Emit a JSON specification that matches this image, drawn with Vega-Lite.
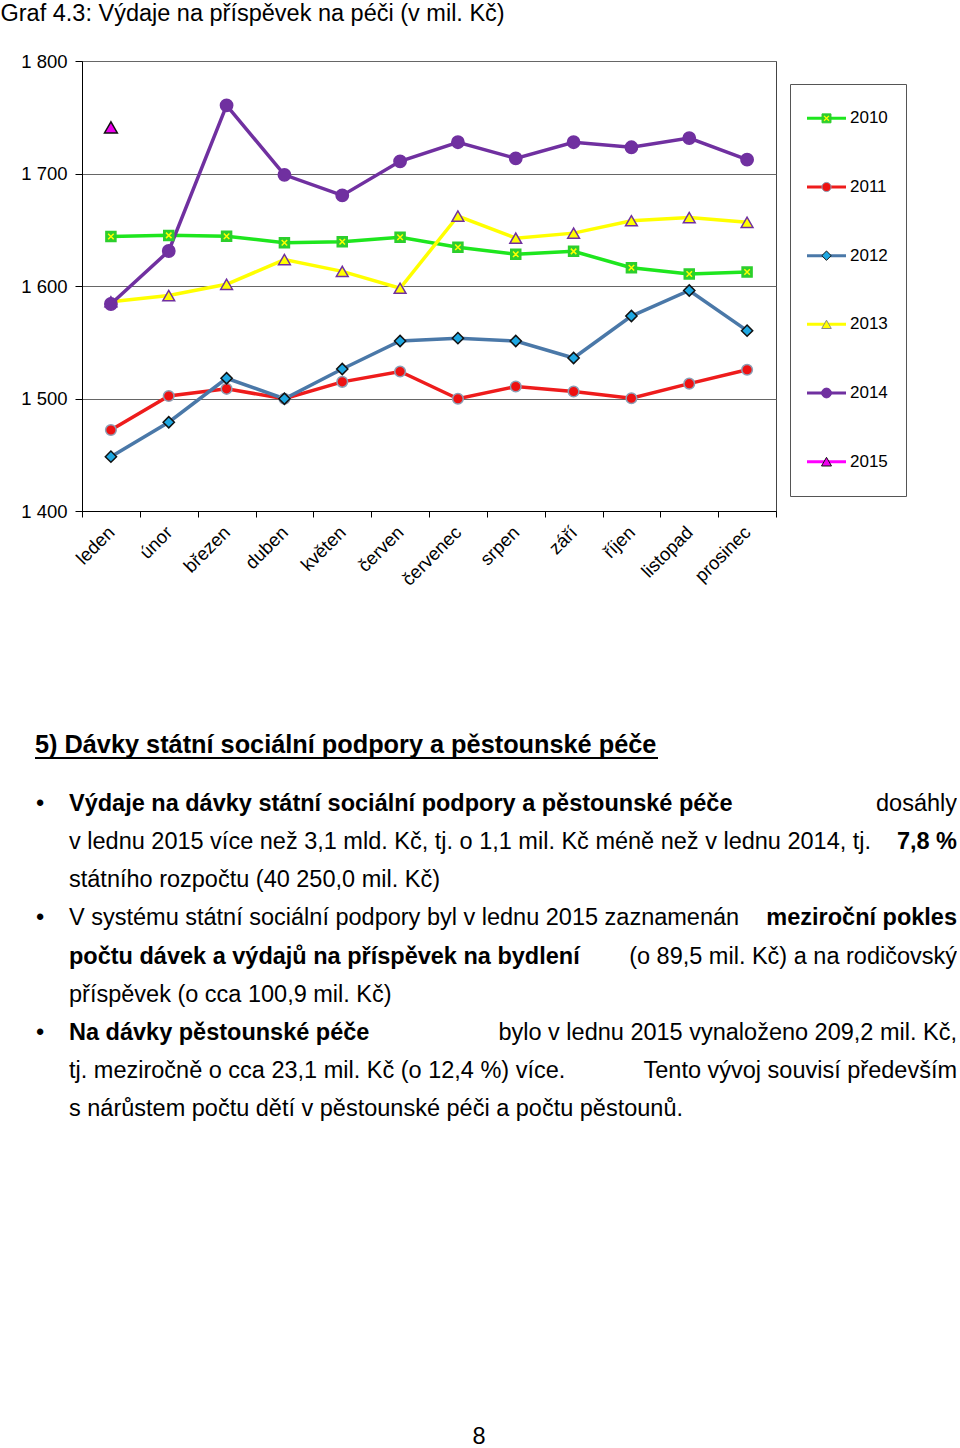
{
  "$schema": "https://vega.github.io/schema/vega-lite/v6.json",
  "padding": {"top": 2, "left": 0, "right": 0, "bottom": 0},
  "background": "#ffffff",
  "config": {
    "font": "Liberation Sans",
    "view": {"stroke": null},
    "text": {"font": "Liberation Sans", "color": "#000000"}
  },
  "title": {
    "text": "Graf 4.3: Výdaje na příspěvek na péči (v mil. Kč)",
    "anchor": "start",
    "frame": "bounds",
    "font": "Liberation Sans",
    "fontSize": 23.5,
    "fontWeight": "normal",
    "color": "#000000",
    "offset": 26
  },
  "datasets": {
    "series": [
      {"year": "2010", "month": "leden", "value": 1644.0},
      {"year": "2010", "month": "únor", "value": 1645.0},
      {"year": "2010", "month": "březen", "value": 1644.2},
      {"year": "2010", "month": "duben", "value": 1638.5},
      {"year": "2010", "month": "květen", "value": 1639.4},
      {"year": "2010", "month": "červen", "value": 1643.3},
      {"year": "2010", "month": "červenec", "value": 1634.4},
      {"year": "2010", "month": "srpen", "value": 1628.2},
      {"year": "2010", "month": "září", "value": 1630.8},
      {"year": "2010", "month": "říjen", "value": 1616.3},
      {"year": "2010", "month": "listopad", "value": 1610.7},
      {"year": "2010", "month": "prosinec", "value": 1612.4},
      {"year": "2011", "month": "leden", "value": 1472.0},
      {"year": "2011", "month": "únor", "value": 1502.2},
      {"year": "2011", "month": "březen", "value": 1508.6},
      {"year": "2011", "month": "duben", "value": 1499.8},
      {"year": "2011", "month": "květen", "value": 1514.8},
      {"year": "2011", "month": "červen", "value": 1524.0},
      {"year": "2011", "month": "červenec", "value": 1499.8},
      {"year": "2011", "month": "srpen", "value": 1510.7},
      {"year": "2011", "month": "září", "value": 1506.2},
      {"year": "2011", "month": "říjen", "value": 1500.2},
      {"year": "2011", "month": "listopad", "value": 1513.2},
      {"year": "2011", "month": "prosinec", "value": 1525.6},
      {"year": "2012", "month": "leden", "value": 1448.3},
      {"year": "2012", "month": "únor", "value": 1478.9},
      {"year": "2012", "month": "březen", "value": 1518.0},
      {"year": "2012", "month": "duben", "value": 1499.8},
      {"year": "2012", "month": "květen", "value": 1526.2},
      {"year": "2012", "month": "červen", "value": 1551.1},
      {"year": "2012", "month": "červenec", "value": 1553.6},
      {"year": "2012", "month": "srpen", "value": 1551.1},
      {"year": "2012", "month": "září", "value": 1536.0},
      {"year": "2012", "month": "říjen", "value": 1573.3},
      {"year": "2012", "month": "listopad", "value": 1596.0},
      {"year": "2012", "month": "prosinec", "value": 1560.3},
      {"year": "2013", "month": "leden", "value": 1586.0},
      {"year": "2013", "month": "únor", "value": 1591.5},
      {"year": "2013", "month": "březen", "value": 1601.5},
      {"year": "2013", "month": "duben", "value": 1623.5},
      {"year": "2013", "month": "květen", "value": 1613.0},
      {"year": "2013", "month": "červen", "value": 1598.0},
      {"year": "2013", "month": "červenec", "value": 1662.2},
      {"year": "2013", "month": "srpen", "value": 1642.5},
      {"year": "2013", "month": "září", "value": 1647.0},
      {"year": "2013", "month": "říjen", "value": 1658.0},
      {"year": "2013", "month": "listopad", "value": 1660.8},
      {"year": "2013", "month": "prosinec", "value": 1656.6},
      {"year": "2014", "month": "leden", "value": 1584.0},
      {"year": "2014", "month": "únor", "value": 1631.1},
      {"year": "2014", "month": "březen", "value": 1760.6},
      {"year": "2014", "month": "duben", "value": 1698.8},
      {"year": "2014", "month": "květen", "value": 1680.5},
      {"year": "2014", "month": "červen", "value": 1710.8},
      {"year": "2014", "month": "červenec", "value": 1727.8},
      {"year": "2014", "month": "srpen", "value": 1713.5},
      {"year": "2014", "month": "září", "value": 1727.8},
      {"year": "2014", "month": "říjen", "value": 1723.3},
      {"year": "2014", "month": "listopad", "value": 1731.5},
      {"year": "2014", "month": "prosinec", "value": 1712.3},
      {"year": "2015", "month": "leden", "value": 1741.0}
    ],
    "years": [
      {"year": "2010"}, {"year": "2011"}, {"year": "2012"},
      {"year": "2013"}, {"year": "2014"}, {"year": "2015"}
    ],
    "heading": [
      {"text": "5) Dávky státní sociální podpory a pěstounské péče"}
    ],
    "body": [
      {"line": 1, "role": "bullet", "anchor": "start", "emph": false, "text": "•"},
      {"line": 1, "role": "text", "anchor": "start", "emph": true, "text": "Výdaje na dávky státní sociální podpory a pěstounské péče"},
      {"line": 1, "role": "text", "anchor": "end", "emph": false, "text": "dosáhly"},
      {"line": 2, "role": "text", "anchor": "start", "emph": false, "text": "v lednu 2015 více než 3,1 mld. Kč, tj. o 1,1 mil. Kč méně než v lednu 2014, tj."},
      {"line": 2, "role": "text", "anchor": "end", "emph": true, "text": "7,8 %"},
      {"line": 3, "role": "text", "anchor": "start", "emph": false, "text": "státního rozpočtu (40 250,0 mil. Kč)"},
      {"line": 4, "role": "bullet", "anchor": "start", "emph": false, "text": "•"},
      {"line": 4, "role": "text", "anchor": "start", "emph": false, "text": "V systému státní sociální podpory byl v lednu 2015 zaznamenán"},
      {"line": 4, "role": "text", "anchor": "end", "emph": true, "text": "meziroční pokles"},
      {"line": 5, "role": "text", "anchor": "start", "emph": true, "text": "počtu dávek a výdajů na příspěvek na bydlení"},
      {"line": 5, "role": "text", "anchor": "end", "emph": false, "text": "(o 89,5 mil. Kč) a na rodičovský"},
      {"line": 6, "role": "text", "anchor": "start", "emph": false, "text": "příspěvek (o cca 100,9 mil. Kč)"},
      {"line": 7, "role": "bullet", "anchor": "start", "emph": false, "text": "•"},
      {"line": 7, "role": "text", "anchor": "start", "emph": true, "text": "Na dávky pěstounské péče"},
      {"line": 7, "role": "text", "anchor": "end", "emph": false, "text": "bylo v lednu 2015 vynaloženo 209,2 mil. Kč,"},
      {"line": 8, "role": "text", "anchor": "start", "emph": false, "text": "tj. meziročně o cca 23,1 mil. Kč (o 12,4 %) více."},
      {"line": 8, "role": "text", "anchor": "end", "emph": false, "text": "Tento vývoj souvisí především"},
      {"line": 9, "role": "text", "anchor": "start", "emph": false, "text": "s nárůstem počtu dětí v pěstounské péči a počtu pěstounů."}
    ],
    "page": [{"text": "8"}]
  },
  "spacing": 22,
  "vconcat": [
    {
      "spacing": 12,
      "resolve": {"scale": {"color": "independent", "fill": "independent", "stroke": "independent", "shape": "independent", "size": "independent"}},
      "hconcat": [
        {
          "width": 694,
          "height": 450,
          "view": {"stroke": "#444444", "strokeWidth": 1},
          "data": {"name": "series"},
          "encoding": {
            "x": {
              "field": "month",
              "type": "nominal",
              "sort": ["leden", "únor", "březen", "duben", "květen", "červen", "červenec", "srpen", "září", "říjen", "listopad", "prosinec"],
              "bandPosition": 0.5,
              "scale": {
                "type": "band",
                "domain": ["leden", "únor", "březen", "duben", "květen", "červen", "červenec", "srpen", "září", "říjen", "listopad", "prosinec"],
                "paddingInner": 0,
                "paddingOuter": 0
              },
              "axis": {
                "title": null,
                "labelAngle": -45,
                "labelAlign": "right",
                "labelBaseline": "middle",
                "labelFontSize": 18.5,
                "labelFont": "Liberation Sans",
                "labelColor": "#000000",
                "labelPadding": 12,
                "labelOverlap": false,
                "tickBand": "extent",
                "tickSize": 6,
                "tickColor": "#000000",
                "domainColor": "#000000",
                "grid": false,
                "minExtent": 199,
                "maxExtent": 199
              }
            },
            "y": {
              "field": "value",
              "type": "quantitative",
              "scale": {"domain": [1400, 1800], "zero": false, "nice": false},
              "axis": {
                "title": null,
                "values": [1400, 1500, 1600, 1700, 1800],
                "labelExpr": "replace(format(datum.value, ','), ',', ' ')",
                "labelFontSize": 18.5,
                "labelFont": "Liberation Sans",
                "labelColor": "#000000",
                "labelPadding": 8,
                "tickSize": 7,
                "tickColor": "#000000",
                "domainColor": "#000000",
                "grid": true,
                "gridColor": "#666666",
                "gridOpacity": 1,
                "minExtent": 81,
                "maxExtent": 81
              }
            }
          },
          "layer": [
            {
              "mark": {"type": "line", "strokeWidth": 3.5},
              "encoding": {
                "order": {"value": null},
                "color": {
                  "field": "year",
                  "type": "nominal",
                  "scale": {"domain": ["2010", "2011", "2012", "2013", "2014", "2015"], "range": ["#1ee61e", "#ee1c1c", "#4a78a8", "#ffff00", "#7030a0", "#ff00ff"]},
                  "legend": null
                }
              }
            },
            {
              "mark": {"type": "point", "filled": true, "opacity": 1, "strokeWidth": 1.5},
              "encoding": {
                "shape": {
                  "field": "year",
                  "type": "nominal",
                  "scale": {"domain": ["2010", "2011", "2012", "2013", "2014", "2015"], "range": ["square", "circle", "diamond", "triangle-up", "circle", "triangle-up"]},
                  "legend": null
                },
                "fill": {
                  "field": "year",
                  "type": "nominal",
                  "scale": {"domain": ["2010", "2011", "2012", "2013", "2014", "2015"], "range": ["#2ccf2c", "#ee1111", "#1fa8e2", "#ffff00", "#7030a0", "#ee00ee"]},
                  "legend": null
                },
                "stroke": {
                  "field": "year",
                  "type": "nominal",
                  "scale": {"domain": ["2010", "2011", "2012", "2013", "2014", "2015"], "range": ["#2ccf2c", "#8c9fb5", "#111111", "#7030a0", "#7030a0", "#111111"]},
                  "legend": null
                },
                "size": {
                  "field": "year",
                  "type": "ordinal",
                  "scale": {"domain": ["2010", "2011", "2012", "2013", "2014", "2015"], "range": [100, 165, 165, 290, 215, 280]},
                  "legend": null
                }
              }
            },
            {
              "transform": [{"filter": "datum.year == '2010'"}],
              "mark": {"type": "point", "shape": "M-0.55,-0.55L0.55,0.55M0.55,-0.55L-0.55,0.55", "filled": false, "stroke": "#ffff00", "strokeWidth": 1.5, "size": 100, "opacity": 1}
            }
          ]
        },
        {
          "spacing": 18,
          "vconcat": [
            {
              "width": 116,
              "height": 1,
              "data": {"values": [{}]},
              "mark": {"type": "point", "opacity": 0}
            },
            {
              "width": 116,
              "height": 412,
              "view": {"stroke": "#555555", "strokeWidth": 1},
              "data": {"name": "years"},
              "encoding": {
                "y": {
                  "field": "year",
                  "type": "nominal",
                  "sort": ["2010", "2011", "2012", "2013", "2014", "2015"],
                  "scale": {"type": "point", "padding": 0.5, "domain": ["2010", "2011", "2012", "2013", "2014", "2015"]},
                  "axis": null
                }
              },
              "layer": [
                {
                  "mark": {"type": "rule", "strokeWidth": 3},
                  "encoding": {
                    "x": {
                      "datum": 17,
                      "type": "quantitative",
                      "scale": {"domain": [0, 116], "nice": false, "zero": false},
                      "axis": null
                    },
                    "x2": {"datum": 56},
                    "color": {
                      "field": "year",
                      "type": "nominal",
                      "scale": {"domain": ["2010", "2011", "2012", "2013", "2014", "2015"], "range": ["#1ee61e", "#ee1c1c", "#4a78a8", "#ffff00", "#7030a0", "#ff00ff"]},
                      "legend": null
                    }
                  }
                },
                {
                  "mark": {"type": "point", "filled": true, "opacity": 1, "strokeWidth": 1},
                  "encoding": {
                    "x": {"datum": 36.5, "type": "quantitative"},
                    "shape": {
                      "field": "year",
                      "type": "nominal",
                      "scale": {"domain": ["2010", "2011", "2012", "2013", "2014", "2015"], "range": ["square", "circle", "diamond", "triangle-up", "circle", "triangle-up"]},
                      "legend": null
                    },
                    "fill": {
                      "field": "year",
                      "type": "nominal",
                      "scale": {"domain": ["2010", "2011", "2012", "2013", "2014", "2015"], "range": ["#2ccf2c", "#ee1111", "#1fa8e2", "#ffff00", "#7030a0", "#ee00ee"]},
                      "legend": null
                    },
                    "stroke": {
                      "field": "year",
                      "type": "nominal",
                      "scale": {"domain": ["2010", "2011", "2012", "2013", "2014", "2015"], "range": ["#2ccf2c", "#8c9fb5", "#111111", "#888888", "#7030a0", "#111111"]},
                      "legend": null
                    },
                    "size": {
                      "field": "year",
                      "type": "ordinal",
                      "scale": {"domain": ["2010", "2011", "2012", "2013", "2014", "2015"], "range": [80, 100, 100, 130, 120, 110]},
                      "legend": null
                    }
                  }
                },
                {
                  "transform": [{"filter": "datum.year == '2010'"}],
                  "mark": {"type": "point", "shape": "M-0.55,-0.55L0.55,0.55M0.55,-0.55L-0.55,0.55", "filled": false, "stroke": "#ffff00", "strokeWidth": 1.3, "size": 80, "opacity": 1},
                  "encoding": {"x": {"datum": 36.5, "type": "quantitative"}}
                },
                {
                  "mark": {"type": "text", "align": "left", "baseline": "middle", "fontSize": 17, "font": "Liberation Sans", "color": "#000000"},
                  "encoding": {
                    "x": {"datum": 60, "type": "quantitative"},
                    "text": {"field": "year"}
                  }
                }
              ]
            }
          ]
        }
      ]
    },
    {
      "width": 623,
      "height": 5,
      "data": {"name": "heading"},
      "encoding": {
        "x": {"datum": "start", "type": "nominal", "scale": {"type": "point", "domain": ["start", "end"], "padding": 0, "range": [-47, 576]}, "axis": null},
        "y": {
          "datum": "text",
          "type": "nominal",
          "scale": {"type": "point", "domain": ["text", "underline"], "padding": 0},
          "axis": null
        }
      },
      "layer": [
        {
          "mark": {"type": "text", "align": "left", "baseline": "alphabetic", "fontSize": 25.3, "fontWeight": "bold", "font": "Liberation Sans", "color": "#000000"},
          "encoding": {"text": {"field": "text"}}
        },
        {
          "mark": {"type": "rule", "strokeWidth": 2, "color": "#000000"},
          "encoding": {
            "x": {"datum": "start", "type": "nominal"},
            "x2": {"datum": "end"},
            "y": {"datum": "underline", "type": "nominal"}
          }
        }
      ]
    },
    {
      "width": 794,
      "height": 351,
      "data": {"name": "body"},
      "encoding": {
        "x": {"field": "anchor", "type": "nominal", "scale": {"type": "point", "domain": ["start", "end"], "padding": 0, "range": [-13, 875]}, "axis": null},
        "y": {
          "field": "line",
          "type": "ordinal",
          "scale": {"type": "point", "padding": 0.603, "domain": [1, 2, 3, 4, 5, 6, 7, 8, 9]},
          "axis": null
        },
        "text": {"field": "text"}
      },
      "layer": [
        {
          "transform": [{"filter": "datum.role == 'bullet'"}],
          "mark": {"type": "text", "align": "center", "baseline": "middle", "dx": -29, "fontSize": 23.5, "font": "Liberation Sans", "color": "#000000"}
        },
        {
          "transform": [{"filter": "datum.role == 'text' && datum.anchor == 'start' && !datum.emph"}],
          "mark": {"type": "text", "align": "left", "baseline": "middle", "fontSize": 23.5, "font": "Liberation Sans", "color": "#000000"}
        },
        {
          "transform": [{"filter": "datum.role == 'text' && datum.anchor == 'start' && datum.emph"}],
          "mark": {"type": "text", "align": "left", "baseline": "middle", "fontSize": 23.5, "fontWeight": "bold", "font": "Liberation Sans", "color": "#000000"}
        },
        {
          "transform": [{"filter": "datum.role == 'text' && datum.anchor == 'end' && !datum.emph"}],
          "mark": {"type": "text", "align": "right", "baseline": "middle", "fontSize": 23.5, "font": "Liberation Sans", "color": "#000000"}
        },
        {
          "transform": [{"filter": "datum.role == 'text' && datum.anchor == 'end' && datum.emph"}],
          "mark": {"type": "text", "align": "right", "baseline": "middle", "fontSize": 23.5, "fontWeight": "bold", "font": "Liberation Sans", "color": "#000000"}
        }
      ]
    },
    {
      "width": 794,
      "height": 20,
      "data": {"name": "page"},
      "mark": {"type": "text", "align": "center", "baseline": "middle", "fontSize": 23.5, "font": "Liberation Sans", "color": "#000000"},
      "encoding": {
        "x": {
          "datum": "center",
          "type": "nominal",
          "scale": {"type": "point", "domain": ["center"], "padding": 0.5},
          "axis": {"orient": "top", "title": null, "labelExpr": "''", "ticks": false, "domain": false, "grid": false, "minExtent": 273, "maxExtent": 273}
        },
        "text": {"field": "text"}
      }
    }
  ]
}
